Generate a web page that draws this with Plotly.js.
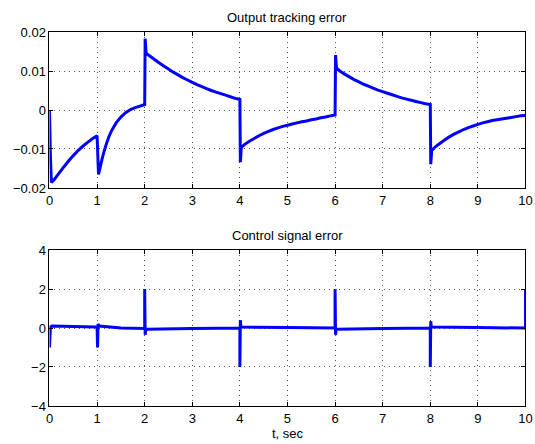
<!DOCTYPE html>
<html>
<head>
<meta charset="utf-8">
<script src="https://cdn.plot.ly/plotly-3.0.1.min.js"></script>
<style>html,body{margin:0;padding:0;background:#fff;}#chart{width:535px;height:444px;}</style>
</head>
<body>
<div id="chart"></div>
<script>
// Output tracking error (top panel)
const tTrack = [0, 0.02, 0.04, 0.1, 0.15, 0.2, 0.25, 0.3, 0.4, 0.5, 0.6, 0.7, 0.8, 0.9, 1.0,
  1.0, 1.03, 1.05, 1.1, 1.15, 1.2, 1.25, 1.3, 1.4, 1.5, 1.6, 1.7, 1.8, 1.9, 2.0,
  2.0, 2.01, 2.03, 2.1, 2.2, 2.3, 2.4, 2.5, 2.6, 2.7, 2.8, 2.9, 3.0, 3.1, 3.2, 3.3, 3.4, 3.5, 3.6, 3.7, 3.8, 3.9, 4.0,
  4.0, 4.01, 4.03, 4.1, 4.2, 4.3, 4.4, 4.5, 4.6, 4.7, 4.8, 4.9, 5.0, 5.1, 5.2, 5.3, 5.4, 5.5, 5.6, 5.7, 5.8, 5.9, 6.0,
  6.0, 6.01, 6.03, 6.1, 6.2, 6.3, 6.4, 6.5, 6.6, 6.7, 6.8, 6.9, 7.0, 7.1, 7.2, 7.3, 7.4, 7.5, 7.6, 7.7, 7.8, 7.9, 8.0,
  8.0, 8.01, 8.03, 8.1, 8.2, 8.3, 8.4, 8.5, 8.6, 8.7, 8.8, 8.9, 9.0, 9.1, 9.2, 9.3, 9.4, 9.5, 9.6, 9.7, 9.8, 9.9, 10.0];
const eTrack = [0, -0.0120, -0.0186, -0.0178, -0.0170, -0.0162, -0.0154, -0.0146, -0.0131, -0.0117, -0.0104, -0.0093, -0.0083, -0.0074, -0.0066,
  -0.0066, -0.0165, -0.0155, -0.0128, -0.0105, -0.0085, -0.0068, -0.0054, -0.0033, -0.0018, -0.0007, 0.0001, 0.0006, 0.0010, 0.0014,
  0.0014, 0.0183, 0.0146, 0.0139, 0.0130, 0.0121, 0.0113, 0.0105, 0.0097, 0.0090, 0.0083, 0.0077, 0.0071, 0.0065, 0.0060, 0.0055, 0.0050, 0.0046, 0.0042, 0.0038, 0.0034, 0.0030, 0.0027,
  0.0027, -0.0134, -0.0096, -0.0088, -0.0080, -0.0073, -0.0066, -0.0060, -0.0055, -0.0050, -0.0046, -0.0042, -0.0039, -0.0036, -0.0033, -0.0030, -0.0028, -0.0025, -0.0023, -0.0020, -0.0018, -0.0015, -0.0013,
  -0.0013, 0.0141, 0.0107, 0.0100, 0.0092, 0.0085, 0.0078, 0.0072, 0.0066, 0.0061, 0.0056, 0.0051, 0.0047, 0.0043, 0.0039, 0.0035, 0.0031, 0.0028, 0.0025, 0.0022, 0.0019, 0.0016, 0.0014,
  0.0014, -0.0139, -0.0104, -0.0095, -0.0086, -0.0077, -0.0069, -0.0062, -0.0056, -0.0050, -0.0045, -0.0041, -0.0037, -0.0033, -0.0030, -0.0027, -0.0025, -0.0023, -0.0021, -0.0019, -0.0017, -0.0015, -0.0014];

// Control signal error (bottom panel)
const tCtrl = [0, 0.02, 0.05, 0.5, 0.98, 1.0, 1.01, 1.02, 1.05, 1.5, 2.0,
  2.0, 2.01, 2.02, 2.05, 3.0, 4.0,
  4.0, 4.01, 4.02, 4.05, 5.0, 6.0,
  6.0, 6.01, 6.02, 6.05, 7.0, 8.0,
  8.0, 8.01, 8.02, 8.05, 9.0, 10.0, 10.0];
const eCtrl = [-1.0, 0.05, 0.1, 0.08, 0.05, 0.05, -1.0, 0.2, 0.1, 0.0, -0.02,
  2.0, -0.35, -0.1, -0.07, -0.03, 0.0,
  -2.0, 0.4, 0.08, 0.05, 0.02, 0.0,
  2.0, -0.35, -0.08, -0.07, -0.03, 0.0,
  -2.0, 0.35, 0.08, 0.05, 0.02, 0.0, 2.0];

const xTicks = [0,1,2,3,4,5,6,7,8,9,10];
const yTicksTop = [-0.02, -0.01, 0, 0.01, 0.02];
const yTicksBot = [-4, -2, 0, 2, 4];

const font = {family: 'Liberation Sans, Arial, sans-serif', size: 13, color: '#000'};
const axBase = {
  showline: true, linecolor: '#000', linewidth: 1, mirror: 'ticks',
  ticks: 'inside', ticklen: 4, tickcolor: '#000', tickwidth: 1,
  showgrid: true, gridcolor: '#555', griddash: '1px,4px', gridwidth: 1,
  zeroline: false, tickfont: font, fixedrange: true
};

const traces = [
  {x: tTrack, y: eTrack, type: 'scatter', mode: 'lines', xaxis: 'x', yaxis: 'y',
   line: {color: '#0000ff', width: 3, simplify: false}},
  {x: tCtrl, y: eCtrl, type: 'scatter', mode: 'lines', xaxis: 'x2', yaxis: 'y2',
   line: {color: '#0000ff', width: 3, simplify: false}}
];

const layout = {
  width: 535, height: 444,
  margin: {l: 0, r: 0, t: 0, b: 0},
  paper_bgcolor: '#fff', plot_bgcolor: '#fff',
  showlegend: false, font: font,
  xaxis: Object.assign({}, axBase, {domain: [0.0925, 0.9822], range: [0, 10], tickvals: xTicks, anchor: 'y'}),
  yaxis: Object.assign({}, axBase, {domain: [0.5766, 0.9279], range: [-0.02, 0.02], tickvals: yTicksTop, anchor: 'x'}),
  xaxis2: Object.assign({}, axBase, {domain: [0.0925, 0.9822], range: [0, 10], tickvals: xTicks, anchor: 'y2',
    title: {text: 't, sec', font: font, standoff: 2}}),
  yaxis2: Object.assign({}, axBase, {domain: [0.0856, 0.4369], range: [-4, 4], tickvals: yTicksBot, anchor: 'x2'}),
  annotations: [
    {text: 'Output tracking error', xref: 'paper', yref: 'paper', x: 0.5373, y: (444 - 17) / 444,
     showarrow: false, font: font, xanchor: 'center', yanchor: 'middle'},
    {text: 'Control signal error', xref: 'paper', yref: 'paper', x: 0.5373, y: (444 - 235) / 444,
     showarrow: false, font: font, xanchor: 'center', yanchor: 'middle'}
  ]
};

Plotly.newPlot('chart', traces, layout, {displayModeBar: false, staticPlot: true});
</script>
</body>
</html>
